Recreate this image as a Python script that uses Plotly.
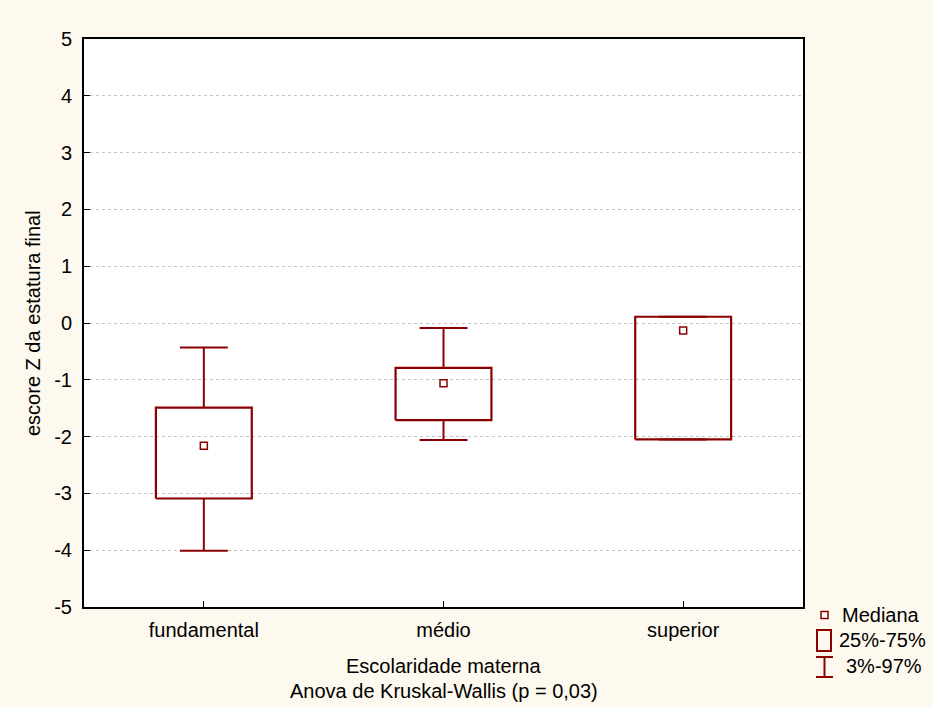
import plotly.graph_objects as go

# Final height z-score by maternal schooling: median, 25%-75% box, 3%-97% whiskers
categories = ["fundamental", "médio", "superior"]
p03 = [-4.01, -2.06, -2.05]
q25 = [-3.09, -1.71, -2.05]
median = [-2.16, -1.06, -0.13]
q75 = [-1.49, -0.79, 0.11]
p97 = [-0.43, -0.09, 0.11]

y_ticks = list(range(-5, 6))
y_tick_labels = [str(v) for v in y_ticks]  # plain hyphen for negatives

RED = "#8B0000"
CREAM = "#FDF9EE"
FONT = "Arial, Liberation Sans, sans-serif"
FS = 20

W, H = 933, 707
ML, MR, MT, MB = 84, 130, 39, 100
PW, PH = W - ML - MR, H - MT - MB

BOX_HALF = 0.20
CAP_HALF = 0.10

xs = list(range(len(categories)))

box_x, box_y = [], []
wh_x, wh_y = [], []
for i, x in enumerate(xs):
    box_x += [x - BOX_HALF, x + BOX_HALF, x + BOX_HALF, x - BOX_HALF, x - BOX_HALF, None]
    box_y += [q25[i], q25[i], q75[i], q75[i], q25[i], None]
    # stems
    wh_x += [x, x, None, x, x, None]
    wh_y += [q75[i], p97[i], None, q25[i], p03[i], None]
    # caps
    wh_x += [x - CAP_HALF, x + CAP_HALF, None, x - CAP_HALF, x + CAP_HALF, None]
    wh_y += [p97[i], p97[i], None, p03[i], p03[i], None]

fig = go.Figure()
fig.add_trace(go.Scatter(x=wh_x, y=wh_y, mode="lines",
                         line=dict(color=RED, width=2), hoverinfo="skip",
                         showlegend=False))
fig.add_trace(go.Scatter(x=box_x, y=box_y, mode="lines",
                         line=dict(color=RED, width=2.2), hoverinfo="skip",
                         showlegend=False))
fig.add_trace(go.Scatter(x=xs, y=median, mode="markers",
                         marker=dict(symbol="square-open", size=7, color=RED,
                                     line=dict(width=1.5, color=RED)),
                         showlegend=False))


def px_x(px):
    return (px - ML) / PW


def px_y(py):
    return (H - MB - py) / PH


shapes = []
annotations = []
text_font = dict(family=FONT, size=FS, color="black")

# Legend: median marker
shapes.append(dict(type="rect", xref="paper", yref="paper",
                   x0=px_x(821), x1=px_x(828), y0=px_y(618.5), y1=px_y(611.5),
                   line=dict(color=RED, width=1.5), fillcolor="white"))
annotations.append(dict(text="Mediana", xref="paper", yref="paper",
                        x=px_x(840), y=px_y(615), xanchor="left", yanchor="middle",
                        showarrow=False, font=text_font))
# Legend: box
shapes.append(dict(type="rect", xref="paper", yref="paper",
                   x0=px_x(817), x1=px_x(831), y0=px_y(651), y1=px_y(630),
                   line=dict(color=RED, width=2), fillcolor="rgba(0,0,0,0)"))
annotations.append(dict(text="25%-75%", xref="paper", yref="paper",
                        x=px_x(837), y=px_y(640), xanchor="left", yanchor="middle",
                        showarrow=False, font=text_font))
# Legend: whisker
for seg in [((816, 657), (833, 657)), ((824.5, 657), (824.5, 677)), ((816, 677), (833, 677))]:
    (a, b), (c, d) = seg
    shapes.append(dict(type="line", xref="paper", yref="paper",
                       x0=px_x(a), y0=px_y(b), x1=px_x(c), y1=px_y(d),
                       line=dict(color=RED, width=2)))
annotations.append(dict(text="3%-97%", xref="paper", yref="paper",
                        x=px_x(844), y=px_y(666), xanchor="left", yanchor="middle",
                        showarrow=False, font=text_font))

# Axis titles
annotations.append(dict(text="Escolaridade materna", xref="paper", yref="paper",
                        x=0.5, y=px_y(666), xanchor="center", yanchor="middle",
                        showarrow=False, font=text_font))
annotations.append(dict(text="Anova de Kruskal-Wallis (p = 0,03)", xref="paper", yref="paper",
                        x=0.5, y=px_y(691), xanchor="center", yanchor="middle",
                        showarrow=False, font=text_font))
annotations.append(dict(text="escore Z da estatura final", xref="paper", yref="paper",
                        x=px_x(33), y=px_y(323), xanchor="center", yanchor="middle",
                        textangle=-90, showarrow=False, font=text_font))

fig.update_layout(
    width=W, height=H,
    margin=dict(l=ML, r=MR, t=MT, b=MB, pad=0),
    paper_bgcolor=CREAM, plot_bgcolor="white",
    font=dict(family=FONT, size=FS, color="black"),
    shapes=shapes, annotations=annotations,
    showlegend=False,
)
fig.update_xaxes(range=[-0.5, 2.5], tickvals=xs, ticktext=categories,
                 ticks="inside", ticklen=6, tickcolor="black", tickwidth=1,
                 showline=True, linecolor="black", linewidth=2, mirror=True,
                 showgrid=False, zeroline=False, ticklabelstandoff=4)
fig.update_yaxes(range=[-5, 5], tickvals=y_ticks, ticktext=y_tick_labels,
                 ticks="inside", ticklen=6, tickcolor="black", tickwidth=1,
                 showline=True, linecolor="black", linewidth=2, mirror=True,
                 showgrid=True, gridcolor="#c4c4c4", gridwidth=1, griddash="dot",
                 zeroline=False, ticklabelstandoff=6)

fig.write_html("out.html")
